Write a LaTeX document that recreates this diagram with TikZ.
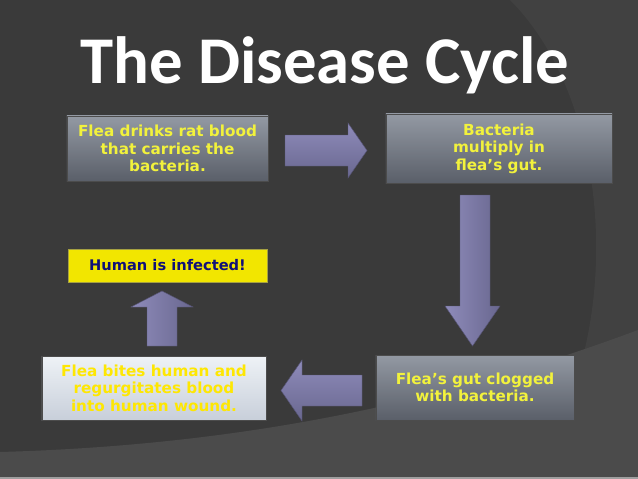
\documentclass[tikz,border=0pt]{standalone}
\usepackage{fontspec}
\setmainfont{DejaVu Sans}
\newfontfamily\titlefont{Carlito}
\usetikzlibrary{positioning, shadings}

\definecolor{bgdark}{HTML}{3A3A3A}
\definecolor{bgmid}{HTML}{414141}
\definecolor{bgband}{HTML}{4B4B4B}
\definecolor{txtyel}{HTML}{F2F23C}
\definecolor{navy}{HTML}{101078}
\definecolor{boxtop}{HTML}{9399A3}
\definecolor{boxmid}{HTML}{6A707A}
\definecolor{boxbot}{HTML}{5A5F69}
\definecolor{litetop}{HTML}{EEF2F6}
\definecolor{litemid}{HTML}{A8B0BD}
\definecolor{litebot}{HTML}{C8CFDA}
\definecolor{arrlite}{HTML}{8E8BBA}
\definecolor{arrdark}{HTML}{69678F}
\definecolor{hiyel}{HTML}{F2E600}

\begin{document}
\begin{tikzpicture}[x=0.03cm, y=-0.03cm,
    box/.style={rectangle, draw=black!70, line width=0.6pt, top color=boxtop, middle color=boxmid, bottom color=boxbot, text=txtyel, align=center, inner sep=0pt, font=\bfseries\fontsize{13}{15}\selectfont},
    litebox/.style={box, top color=litetop, middle color=litemid, bottom color=litebot, text=yellow!95!red},
    tag/.style={rectangle, draw=yellow!60!black, fill=hiyel, text=navy, inner sep=0pt, font=\bfseries\fontsize{12.5}{15}\selectfont},
    blk/.style={draw=arrdark!80!black, line width=0.4pt}]

% Background
\fill[bgdark] (0,0) rectangle (638,479);
\fill[bgmid] (510,0) .. controls (620,110) and (625,360) .. (523,479) -- (638,479) -- (638,0) -- cycle;
\fill[bgband] (0,452) .. controls (250,445) and (450,400) .. (638,330) -- (638,479) -- (0,479) -- cycle;
\fill[gray!75] (0,477) rectangle (638,479);

% Title
\node[anchor=base, text=white, font=\titlefont\bfseries\fontsize{57}{62}\selectfont] (title) at (325,84) {The Disease Cycle};

% Stages
\node[box, minimum width=6.03cm, minimum height=1.95cm] (rat) at (167.5,148.5) {Flea drinks rat blood\\that carries the\\bacteria.};
\node[box, minimum width=6.78cm, minimum height=2.07cm] (gut) at (499,148.5) {Bacteria\\multiply in\\flea’s gut.};
\node[box, minimum width=5.94cm, minimum height=1.95cm] (clog) at (475,387.5) {Flea’s gut clogged\\with bacteria.};
\node[litebox, minimum width=6.72cm, minimum height=1.92cm] (bite) at (154,388) {Flea bites human and\\regurgitates blood\\into human wound.};
\node[tag, minimum width=5.97cm, minimum height=0.99cm] (human) at (167.5,265.5) {Human is infected!};

% Block arrows
\shade[blk, top color=arrlite, bottom color=arrdark] (285,135) -- (348,135) -- (348,123) -- (367,150.5) -- (348,178) -- (348,166) -- (285,166) -- cycle;
\shade[blk, left color=arrlite, right color=arrdark] (460,195) -- (490,195) -- (490,306) -- (500,306) -- (472.5,346) -- (445,306) -- (460,306) -- cycle;
\shade[blk, top color=arrlite, bottom color=arrdark] (362,375) -- (302,375) -- (302,360) -- (281,390.5) -- (302,421) -- (302,406) -- (362,406) -- cycle;
\shade[blk, left color=arrlite, right color=arrdark] (147,346) -- (147,307) -- (131,307) -- (162,291) -- (193,307) -- (177,307) -- (177,346) -- cycle;

\end{tikzpicture}
\end{document}
